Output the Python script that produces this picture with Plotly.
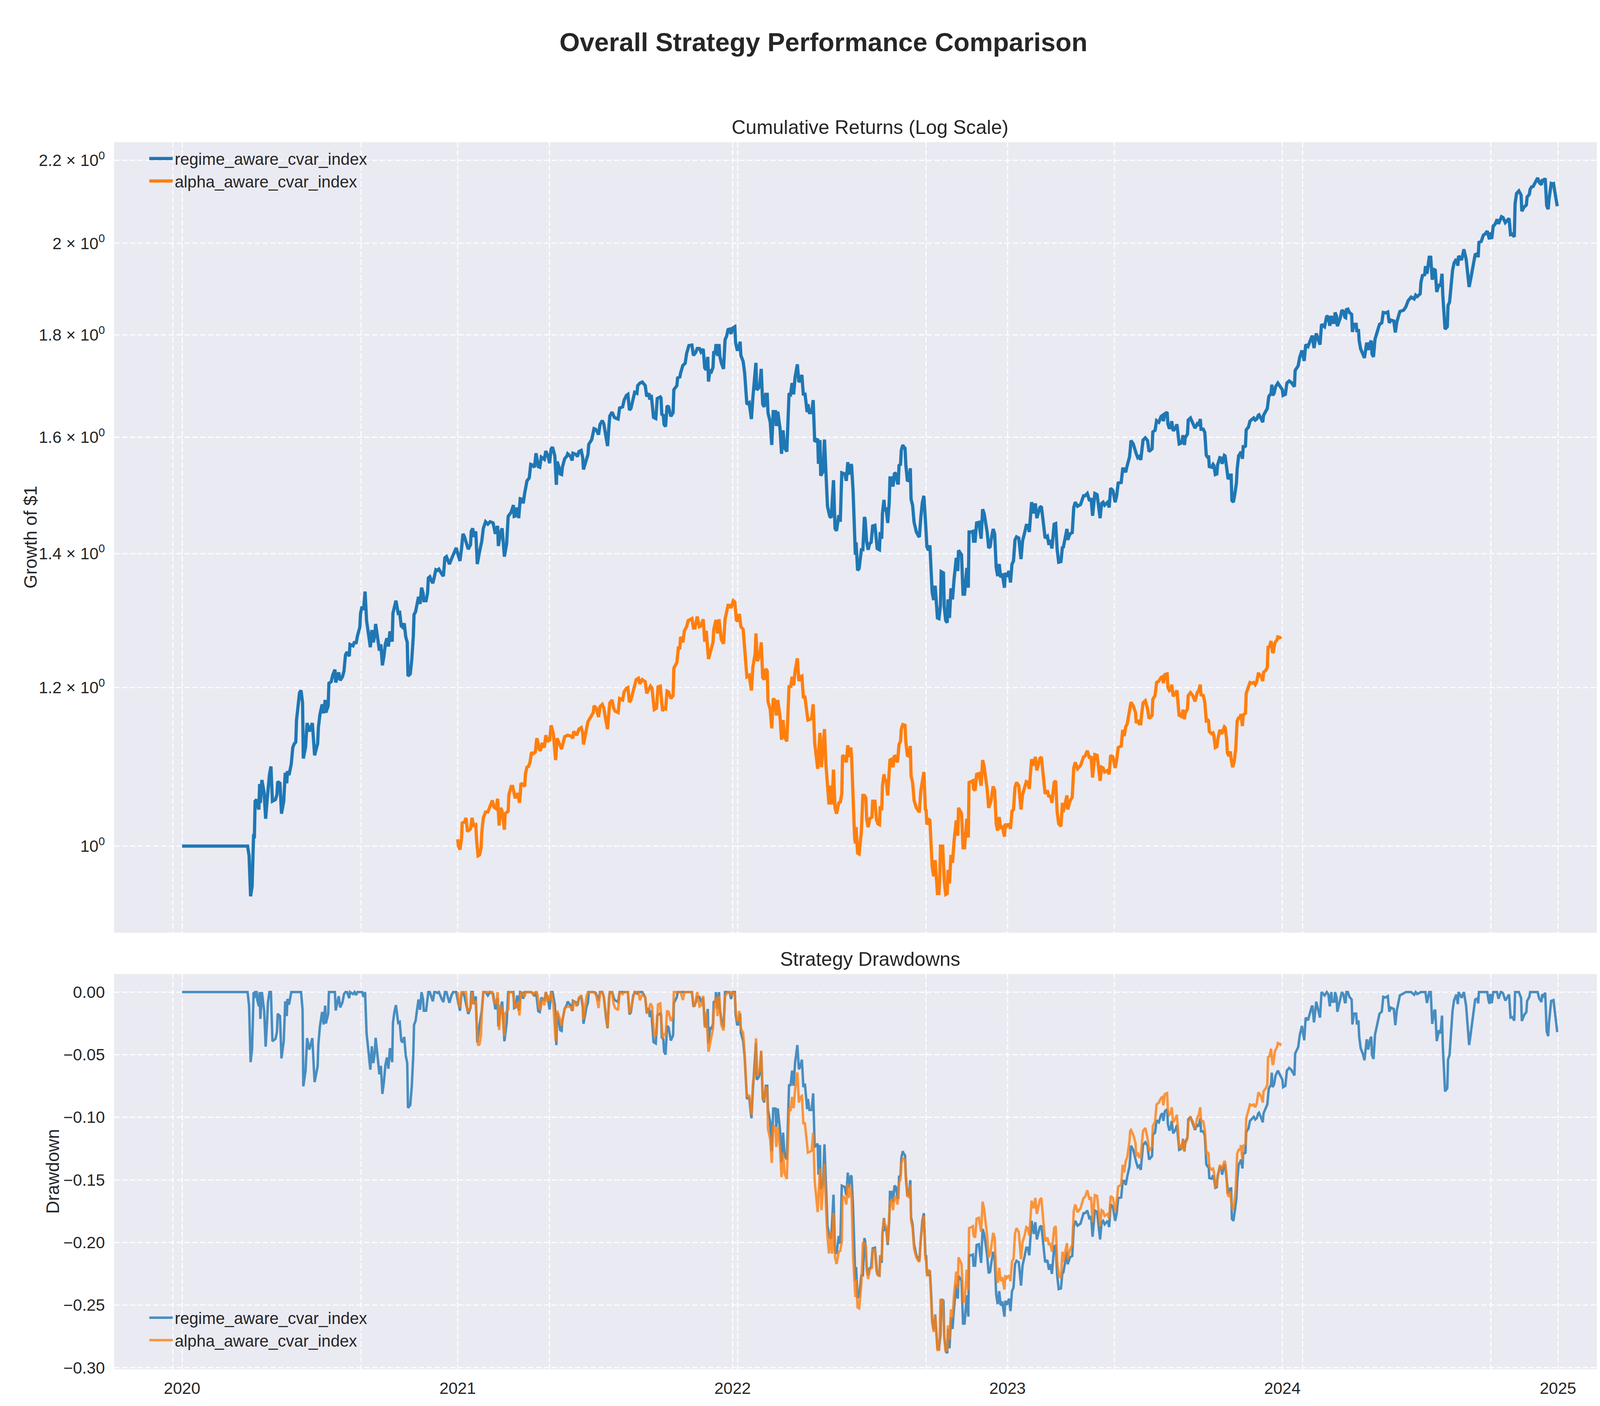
import pandas as pd
import plotly.graph_objects as go
from plotly.subplots import make_subplots

# growth of $1 (irregular sample of the daily path)
regime_dates_2020 = [
    "2020-01-01", "2020-03-28", "2020-03-30", "2020-04-01", "2020-04-03", "2020-04-05", "2020-04-06", "2020-04-07", "2020-04-09", "2020-04-10",
    "2020-04-12", "2020-04-13", "2020-04-14", "2020-04-16", "2020-04-19", "2020-04-21", "2020-04-23", "2020-04-24", "2020-04-26", "2020-04-28",
    "2020-04-30", "2020-05-04", "2020-05-06", "2020-05-07", "2020-05-10", "2020-05-12", "2020-05-15", "2020-05-17", "2020-05-19", "2020-05-20",
    "2020-05-22", "2020-05-25", "2020-05-27", "2020-05-29", "2020-05-31", "2020-06-01", "2020-06-04", "2020-06-05", "2020-06-07", "2020-06-09",
    "2020-06-10", "2020-06-13", "2020-06-15", "2020-06-18", "2020-06-22", "2020-06-24", "2020-06-25", "2020-06-29", "2020-06-30", "2020-07-02",
    "2020-07-05", "2020-07-07", "2020-07-09", "2020-07-10", "2020-07-13", "2020-07-14", "2020-07-17", "2020-07-19", "2020-07-22", "2020-07-23",
    "2020-07-25", "2020-07-27", "2020-07-29", "2020-08-01", "2020-08-03", "2020-08-05", "2020-08-07", "2020-08-10", "2020-08-11", "2020-08-15",
    "2020-08-17", "2020-08-19", "2020-08-21", "2020-08-24", "2020-08-25", "2020-08-27", "2020-08-29", "2020-08-31", "2020-09-02", "2020-09-05",
    "2020-09-07", "2020-09-09", "2020-09-11", "2020-09-13", "2020-09-14", "2020-09-17", "2020-09-19", "2020-09-21", "2020-09-23", "2020-09-25",
    "2020-09-27", "2020-09-29", "2020-10-01", "2020-10-03", "2020-10-06", "2020-10-07", "2020-10-09", "2020-10-11", "2020-10-14", "2020-10-16",
    "2020-10-18", "2020-10-20", "2020-10-22", "2020-10-24", "2020-10-26", "2020-10-27", "2020-10-30", "2020-11-01", "2020-11-03", "2020-11-04",
    "2020-11-06", "2020-11-08", "2020-11-10", "2020-11-12", "2020-11-14", "2020-11-16", "2020-11-17", "2020-11-20", "2020-11-22", "2020-11-23",
    "2020-11-25", "2020-11-27", "2020-11-29", "2020-12-01", "2020-12-03", "2020-12-05", "2020-12-07", "2020-12-11", "2020-12-13", "2020-12-15",
    "2020-12-17", "2020-12-19", "2020-12-21", "2020-12-24", "2020-12-26", "2020-12-29", "2020-12-30",
]
regime_values_2020 = [
    1.000, 1.000, 0.989, 0.944, 0.955, 1.014, 1.009, 1.053, 1.055, 1.048,
    1.043, 1.074, 1.051, 1.079, 1.063, 1.032, 1.055, 1.070, 1.085, 1.096,
    1.053, 1.055, 1.061, 1.077, 1.075, 1.038, 1.053, 1.088, 1.075, 1.090,
    1.085, 1.099, 1.120, 1.125, 1.127, 1.156, 1.185, 1.193, 1.196, 1.179,
    1.106, 1.121, 1.152, 1.141, 1.152, 1.123, 1.110, 1.125, 1.146, 1.163,
    1.177, 1.165, 1.183, 1.166, 1.175, 1.206, 1.208, 1.217, 1.225, 1.207,
    1.215, 1.221, 1.210, 1.215, 1.223, 1.246, 1.250, 1.244, 1.261, 1.259,
    1.265, 1.262, 1.274, 1.286, 1.307, 1.317, 1.312, 1.340, 1.296, 1.272,
    1.257, 1.282, 1.264, 1.276, 1.291, 1.268, 1.252, 1.261, 1.231, 1.244,
    1.262, 1.270, 1.258, 1.280, 1.265, 1.307, 1.319, 1.326, 1.307, 1.308,
    1.288, 1.286, 1.292, 1.272, 1.264, 1.216, 1.219, 1.239, 1.272, 1.305,
    1.309, 1.321, 1.332, 1.321, 1.346, 1.338, 1.326, 1.326, 1.338, 1.361,
    1.363, 1.357, 1.353, 1.363, 1.374, 1.373, 1.375, 1.367, 1.364, 1.393,
    1.395, 1.389, 1.383, 1.392, 1.398, 1.407, 1.409,
]

regime_dates_2021 = [
    "2021-01-01", "2021-01-04", "2021-01-06", "2021-01-08", "2021-01-10", "2021-01-12", "2021-01-15", "2021-01-18", "2021-01-19", "2021-01-21",
    "2021-01-22", "2021-01-25", "2021-01-27", "2021-01-30", "2021-02-02", "2021-02-04", "2021-02-07", "2021-02-10", "2021-02-13", "2021-02-17",
    "2021-02-20", "2021-02-23", "2021-02-24", "2021-02-27", "2021-03-01", "2021-03-04", "2021-03-07", "2021-03-09", "2021-03-13", "2021-03-16",
    "2021-03-17", "2021-03-19", "2021-03-21", "2021-03-23", "2021-03-25", "2021-03-28", "2021-03-29", "2021-03-31", "2021-04-03", "2021-04-06",
    "2021-04-08", "2021-04-10", "2021-04-13", "2021-04-15", "2021-04-18", "2021-04-20", "2021-04-22", "2021-04-26", "2021-04-28", "2021-05-01",
    "2021-05-03", "2021-05-05", "2021-05-07", "2021-05-10", "2021-05-12", "2021-05-13", "2021-05-15", "2021-05-17", "2021-05-19", "2021-05-20",
    "2021-05-23", "2021-05-26", "2021-05-27", "2021-05-31", "2021-06-02", "2021-06-03", "2021-06-07", "2021-06-09", "2021-06-11", "2021-06-14",
    "2021-06-16", "2021-06-17", "2021-06-21", "2021-06-23", "2021-06-24", "2021-06-28", "2021-07-01", "2021-07-03", "2021-07-05", "2021-07-07",
    "2021-07-09", "2021-07-12", "2021-07-14", "2021-07-17", "2021-07-19", "2021-07-21", "2021-07-22", "2021-07-25", "2021-07-28", "2021-07-31",
    "2021-08-02", "2021-08-04", "2021-08-08", "2021-08-10", "2021-08-13", "2021-08-15", "2021-08-17", "2021-08-19", "2021-08-22", "2021-08-24",
    "2021-08-27", "2021-08-28", "2021-08-31", "2021-09-03", "2021-09-07", "2021-09-09", "2021-09-12", "2021-09-13", "2021-09-15", "2021-09-18",
    "2021-09-21", "2021-09-23", "2021-09-27", "2021-09-28", "2021-09-29", "2021-10-01", "2021-10-02", "2021-10-04", "2021-10-06", "2021-10-08",
    "2021-10-11", "2021-10-14", "2021-10-15", "2021-10-19", "2021-10-20", "2021-10-23", "2021-10-24", "2021-10-27", "2021-10-30", "2021-11-01",
    "2021-11-04", "2021-11-08", "2021-11-10", "2021-11-13", "2021-11-15", "2021-11-18", "2021-11-20", "2021-11-23", "2021-11-25", "2021-11-27",
    "2021-11-29", "2021-11-30", "2021-12-02", "2021-12-04", "2021-12-06", "2021-12-07", "2021-12-09", "2021-12-10", "2021-12-12", "2021-12-14",
    "2021-12-15", "2021-12-17", "2021-12-20", "2021-12-22", "2021-12-24", "2021-12-26", "2021-12-28", "2021-12-30",
]
regime_values_2021 = [
    1.400, 1.388, 1.407, 1.432, 1.427, 1.420, 1.407, 1.414, 1.436, 1.441,
    1.427, 1.436, 1.383, 1.403, 1.420, 1.441, 1.452, 1.448, 1.452, 1.450,
    1.432, 1.445, 1.412, 1.434, 1.441, 1.395, 1.416, 1.461, 1.468, 1.480,
    1.461, 1.462, 1.476, 1.458, 1.491, 1.490, 1.483, 1.501, 1.522, 1.527,
    1.551, 1.550, 1.546, 1.571, 1.547, 1.546, 1.564, 1.560, 1.575, 1.565,
    1.553, 1.579, 1.582, 1.566, 1.515, 1.556, 1.548, 1.534, 1.533, 1.546,
    1.561, 1.566, 1.570, 1.565, 1.558, 1.571, 1.569, 1.565, 1.574, 1.576,
    1.563, 1.542, 1.563, 1.569, 1.587, 1.596, 1.616, 1.615, 1.611, 1.605,
    1.624, 1.631, 1.625, 1.597, 1.584, 1.624, 1.640, 1.647, 1.637, 1.635,
    1.634, 1.655, 1.657, 1.670, 1.679, 1.681, 1.651, 1.654, 1.676, 1.685,
    1.683, 1.698, 1.703, 1.705, 1.698, 1.677, 1.683, 1.671, 1.680, 1.637,
    1.635, 1.673, 1.676, 1.674, 1.643, 1.641, 1.624, 1.620, 1.659, 1.657,
    1.639, 1.646, 1.690, 1.698, 1.713, 1.715, 1.723, 1.738, 1.742, 1.762,
    1.778, 1.779, 1.758, 1.764, 1.772, 1.772, 1.765, 1.771, 1.733, 1.729,
    1.755, 1.706, 1.729, 1.726, 1.734, 1.766, 1.764, 1.781, 1.757, 1.781,
    1.757, 1.743, 1.731, 1.790, 1.797, 1.811, 1.812, 1.802,
]

regime_dates_2022 = [
    "2022-01-01", "2022-01-04", "2022-01-05", "2022-01-07", "2022-01-09", "2022-01-11", "2022-01-12", "2022-01-15", "2022-01-17", "2022-01-20",
    "2022-01-23", "2022-01-25", "2022-01-26", "2022-01-28", "2022-01-30", "2022-02-01", "2022-02-02", "2022-02-04", "2022-02-06", "2022-02-08",
    "2022-02-10", "2022-02-12", "2022-02-14", "2022-02-16", "2022-02-17", "2022-02-20", "2022-02-22", "2022-02-24", "2022-02-27", "2022-02-28",
    "2022-03-02", "2022-03-05", "2022-03-07", "2022-03-09", "2022-03-11", "2022-03-14", "2022-03-17", "2022-03-19", "2022-03-21", "2022-03-23",
    "2022-03-25", "2022-03-28", "2022-03-30", "2022-04-01", "2022-04-03", "2022-04-05", "2022-04-07", "2022-04-10", "2022-04-11", "2022-04-13",
    "2022-04-16", "2022-04-18", "2022-04-20", "2022-04-24", "2022-04-25", "2022-04-27", "2022-04-28", "2022-05-01", "2022-05-03", "2022-05-05",
    "2022-05-07", "2022-05-10", "2022-05-12", "2022-05-15", "2022-05-17", "2022-05-19", "2022-05-22", "2022-05-24", "2022-05-26", "2022-05-30",
    "2022-06-01", "2022-06-03", "2022-06-04", "2022-06-07", "2022-06-08", "2022-06-10", "2022-06-12", "2022-06-13", "2022-06-14", "2022-06-16",
    "2022-06-18", "2022-06-21", "2022-06-23", "2022-06-25", "2022-06-26", "2022-06-28", "2022-06-30", "2022-07-02", "2022-07-04", "2022-07-06",
    "2022-07-09", "2022-07-10", "2022-07-12", "2022-07-15", "2022-07-16", "2022-07-18", "2022-07-19", "2022-07-21", "2022-07-22", "2022-07-24",
    "2022-07-26", "2022-07-28", "2022-07-29", "2022-07-31", "2022-08-02", "2022-08-04", "2022-08-06", "2022-08-08", "2022-08-09", "2022-08-10",
    "2022-08-12", "2022-08-13", "2022-08-15", "2022-08-16", "2022-08-18", "2022-08-19", "2022-08-21", "2022-08-23", "2022-08-25", "2022-08-26",
    "2022-08-28", "2022-08-30", "2022-09-02", "2022-09-05", "2022-09-06", "2022-09-08", "2022-09-10", "2022-09-12", "2022-09-14", "2022-09-15",
    "2022-09-16", "2022-09-18", "2022-09-20", "2022-09-22", "2022-09-23", "2022-09-25", "2022-09-27", "2022-09-30", "2022-10-02", "2022-10-04",
    "2022-10-05", "2022-10-08", "2022-10-09", "2022-10-11", "2022-10-13", "2022-10-14", "2022-10-16", "2022-10-18", "2022-10-20", "2022-10-22",
    "2022-10-25", "2022-10-27", "2022-10-28", "2022-11-01", "2022-11-03", "2022-11-05", "2022-11-08", "2022-11-10", "2022-11-11", "2022-11-14",
    "2022-11-16", "2022-11-17", "2022-11-19", "2022-11-21", "2022-11-24", "2022-11-27", "2022-11-29", "2022-12-01", "2022-12-05", "2022-12-07",
    "2022-12-09", "2022-12-10", "2022-12-13", "2022-12-15", "2022-12-17", "2022-12-19", "2022-12-21", "2022-12-23", "2022-12-25", "2022-12-28",
    "2022-12-29", "2022-12-31",
]
regime_values_2022 = [
    1.814, 1.817, 1.784, 1.770, 1.770, 1.786, 1.758, 1.746, 1.723, 1.662,
    1.665, 1.643, 1.634, 1.676, 1.705, 1.743, 1.690, 1.692, 1.698, 1.731,
    1.662, 1.657, 1.681, 1.681, 1.646, 1.628, 1.586, 1.648, 1.648, 1.621,
    1.648, 1.616, 1.570, 1.613, 1.581, 1.574, 1.683, 1.681, 1.703, 1.681,
    1.715, 1.740, 1.705, 1.709, 1.719, 1.679, 1.684, 1.647, 1.662, 1.646,
    1.646, 1.670, 1.592, 1.597, 1.552, 1.595, 1.531, 1.538, 1.596, 1.530,
    1.478, 1.461, 1.459, 1.523, 1.441, 1.437, 1.463, 1.452, 1.536, 1.534,
    1.522, 1.555, 1.533, 1.551, 1.549, 1.504, 1.429, 1.398, 1.418, 1.373,
    1.376, 1.406, 1.406, 1.460, 1.456, 1.419, 1.406, 1.416, 1.418, 1.445,
    1.446, 1.429, 1.408, 1.406, 1.435, 1.424, 1.466, 1.489, 1.472, 1.473,
    1.450, 1.485, 1.527, 1.527, 1.512, 1.536, 1.534, 1.518, 1.518, 1.549,
    1.551, 1.576, 1.586, 1.583, 1.580, 1.551, 1.523, 1.522, 1.544, 1.490,
    1.480, 1.451, 1.435, 1.428, 1.427, 1.460, 1.485, 1.496, 1.435, 1.434,
    1.411, 1.405, 1.413, 1.372, 1.339, 1.327, 1.349, 1.300, 1.299, 1.319,
    1.371, 1.369, 1.317, 1.296, 1.293, 1.328, 1.300, 1.345, 1.328, 1.358,
    1.393, 1.372, 1.405, 1.398, 1.336, 1.336, 1.377, 1.346, 1.435, 1.435,
    1.436, 1.420, 1.420, 1.450, 1.451, 1.424, 1.473, 1.466, 1.435, 1.409,
    1.411, 1.420, 1.440, 1.432, 1.378, 1.364, 1.383, 1.362, 1.368, 1.346,
    1.369, 1.363,
]

regime_dates_2023 = [
    "2023-01-03", "2023-01-05", "2023-01-07", "2023-01-09", "2023-01-11", "2023-01-13", "2023-01-16", "2023-01-19", "2023-01-21", "2023-01-24",
    "2023-01-26", "2023-01-28", "2023-01-30", "2023-02-02", "2023-02-05", "2023-02-07", "2023-02-09", "2023-02-13", "2023-02-15", "2023-02-17",
    "2023-02-20", "2023-02-23", "2023-02-25", "2023-02-27", "2023-03-01", "2023-03-04", "2023-03-06", "2023-03-08", "2023-03-10", "2023-03-13",
    "2023-03-15", "2023-03-16", "2023-03-18", "2023-03-21", "2023-03-22", "2023-03-25", "2023-03-28", "2023-03-30", "2023-04-01", "2023-04-04",
    "2023-04-08", "2023-04-12", "2023-04-14", "2023-04-17", "2023-04-20", "2023-04-22", "2023-04-24", "2023-04-27", "2023-04-30", "2023-05-04",
    "2023-05-06", "2023-05-08", "2023-05-10", "2023-05-14", "2023-05-16", "2023-05-18", "2023-05-21", "2023-05-24", "2023-05-26", "2023-05-28",
    "2023-06-01", "2023-06-03", "2023-06-05", "2023-06-07", "2023-06-09", "2023-06-12", "2023-06-13", "2023-06-14", "2023-06-17", "2023-06-20",
    "2023-06-21", "2023-06-23", "2023-06-25", "2023-06-27", "2023-06-28", "2023-06-30", "2023-07-03", "2023-07-06", "2023-07-08", "2023-07-12",
    "2023-07-13", "2023-07-16", "2023-07-18", "2023-07-21", "2023-07-24", "2023-07-26", "2023-07-27", "2023-07-29", "2023-08-01", "2023-08-02",
    "2023-08-04", "2023-08-06", "2023-08-07", "2023-08-09", "2023-08-12", "2023-08-14", "2023-08-17", "2023-08-19", "2023-08-21", "2023-08-22",
    "2023-08-24", "2023-08-25", "2023-08-28", "2023-08-29", "2023-09-01", "2023-09-04", "2023-09-07", "2023-09-10", "2023-09-12", "2023-09-14",
    "2023-09-15", "2023-09-18", "2023-09-20", "2023-09-22", "2023-09-24", "2023-09-25", "2023-09-26", "2023-09-29", "2023-10-01", "2023-10-02",
    "2023-10-04", "2023-10-06", "2023-10-07", "2023-10-10", "2023-10-12", "2023-10-13", "2023-10-16", "2023-10-17", "2023-10-19", "2023-10-20",
    "2023-10-21", "2023-10-24", "2023-10-25", "2023-10-26", "2023-10-28", "2023-10-30", "2023-11-01", "2023-11-02", "2023-11-04", "2023-11-06",
    "2023-11-07", "2023-11-09", "2023-11-10", "2023-11-12", "2023-11-13", "2023-11-14", "2023-11-17", "2023-11-19", "2023-11-22", "2023-11-24",
    "2023-11-26", "2023-11-28", "2023-11-30", "2023-12-01", "2023-12-04", "2023-12-06", "2023-12-07", "2023-12-09", "2023-12-12", "2023-12-14",
    "2023-12-17", "2023-12-18", "2023-12-19", "2023-12-21", "2023-12-23", "2023-12-26", "2023-12-30",
]
regime_values_2023 = [
    1.372, 1.354, 1.383, 1.388, 1.422, 1.427, 1.425, 1.391, 1.420, 1.435,
    1.446, 1.446, 1.435, 1.485, 1.466, 1.483, 1.458, 1.476, 1.478, 1.457,
    1.425, 1.428, 1.414, 1.422, 1.408, 1.448, 1.449, 1.406, 1.386, 1.387,
    1.411, 1.409, 1.422, 1.440, 1.422, 1.432, 1.434, 1.476, 1.485, 1.478,
    1.481, 1.496, 1.496, 1.500, 1.487, 1.492, 1.462, 1.500, 1.498, 1.458,
    1.483, 1.485, 1.480, 1.485, 1.476, 1.509, 1.505, 1.485, 1.496, 1.518,
    1.519, 1.543, 1.543, 1.537, 1.549, 1.564, 1.577, 1.594, 1.588, 1.571,
    1.570, 1.563, 1.565, 1.559, 1.570, 1.595, 1.599, 1.594, 1.574, 1.579,
    1.610, 1.613, 1.631, 1.628, 1.639, 1.641, 1.630, 1.644, 1.647, 1.625,
    1.616, 1.621, 1.630, 1.612, 1.617, 1.624, 1.588, 1.589, 1.594, 1.604,
    1.586, 1.599, 1.606, 1.632, 1.636, 1.627, 1.617, 1.625, 1.622, 1.634,
    1.615, 1.615, 1.609, 1.567, 1.563, 1.567, 1.547, 1.546, 1.551, 1.549,
    1.533, 1.534, 1.550, 1.563, 1.562, 1.552, 1.567, 1.566, 1.543, 1.539,
    1.525, 1.532, 1.532, 1.488, 1.485, 1.500, 1.518, 1.543, 1.567, 1.570,
    1.574, 1.561, 1.583, 1.583, 1.584, 1.614, 1.619, 1.630, 1.634, 1.636,
    1.632, 1.634, 1.641, 1.642, 1.634, 1.628, 1.641, 1.647, 1.654, 1.677,
    1.683, 1.700, 1.679, 1.683, 1.696, 1.703, 1.695,
]

regime_dates_2024 = [
    "2024-01-01", "2024-01-02", "2024-01-05", "2024-01-07", "2024-01-10", "2024-01-13", "2024-01-15", "2024-01-17", "2024-01-18", "2024-01-20",
    "2024-01-22", "2024-01-24", "2024-01-27", "2024-01-30", "2024-02-01", "2024-02-04", "2024-02-07", "2024-02-09", "2024-02-10", "2024-02-12",
    "2024-02-15", "2024-02-20", "2024-02-22", "2024-02-24", "2024-02-26", "2024-02-29", "2024-03-02", "2024-03-04", "2024-03-06", "2024-03-07",
    "2024-03-10", "2024-03-11", "2024-03-13", "2024-03-14", "2024-03-18", "2024-03-20", "2024-03-22", "2024-03-24", "2024-03-25", "2024-03-26",
    "2024-03-28", "2024-03-30", "2024-04-02", "2024-04-03", "2024-04-05", "2024-04-08", "2024-04-09", "2024-04-11", "2024-04-12", "2024-04-14",
    "2024-04-17", "2024-04-19", "2024-04-22", "2024-04-24", "2024-04-26", "2024-04-28", "2024-04-29", "2024-05-01", "2024-05-03", "2024-05-05",
    "2024-05-09", "2024-05-12", "2024-05-14", "2024-05-17", "2024-05-20", "2024-05-22", "2024-05-24", "2024-05-28", "2024-05-30", "2024-06-01",
    "2024-06-04", "2024-06-05", "2024-06-10", "2024-06-13", "2024-06-16", "2024-06-20", "2024-06-24", "2024-06-26", "2024-06-28", "2024-07-02",
    "2024-07-03", "2024-07-05", "2024-07-08", "2024-07-09", "2024-07-11", "2024-07-14", "2024-07-16", "2024-07-18", "2024-07-21", "2024-07-22",
    "2024-07-24", "2024-07-27", "2024-07-29", "2024-07-31", "2024-08-01", "2024-08-04", "2024-08-07", "2024-08-08", "2024-08-10", "2024-08-12",
    "2024-08-14", "2024-08-16", "2024-08-19", "2024-08-21", "2024-08-22", "2024-08-26", "2024-08-29", "2024-09-01", "2024-09-02", "2024-09-05",
    "2024-09-07", "2024-09-11", "2024-09-13", "2024-09-16", "2024-09-17", "2024-09-18", "2024-09-21", "2024-09-24", "2024-09-26", "2024-09-29",
    "2024-10-01", "2024-10-02", "2024-10-03", "2024-10-05", "2024-10-07", "2024-10-09", "2024-10-11", "2024-10-12", "2024-10-14", "2024-10-17",
    "2024-10-18", "2024-10-20", "2024-10-23", "2024-10-25", "2024-10-28", "2024-10-30", "2024-11-01", "2024-11-04", "2024-11-05", "2024-11-07",
    "2024-11-10", "2024-11-13", "2024-11-14", "2024-11-17", "2024-11-20", "2024-11-21", "2024-11-24", "2024-11-25", "2024-11-27", "2024-11-29",
    "2024-12-03", "2024-12-05", "2024-12-07", "2024-12-10", "2024-12-11", "2024-12-13", "2024-12-15", "2024-12-17", "2024-12-19", "2024-12-20",
    "2024-12-23", "2024-12-24", "2024-12-26", "2024-12-28", "2024-12-31",
]
regime_values_2024 = [
    1.690, 1.679, 1.681, 1.703, 1.707, 1.704, 1.700, 1.696, 1.728, 1.732,
    1.737, 1.754, 1.768, 1.747, 1.780, 1.776, 1.789, 1.796, 1.796, 1.773,
    1.803, 1.780, 1.822, 1.819, 1.817, 1.840, 1.837, 1.819, 1.840, 1.826,
    1.826, 1.847, 1.839, 1.818, 1.836, 1.852, 1.849, 1.837, 1.836, 1.853,
    1.854, 1.847, 1.843, 1.806, 1.822, 1.822, 1.806, 1.812, 1.788, 1.771,
    1.762, 1.753, 1.784, 1.769, 1.782, 1.788, 1.761, 1.755, 1.791, 1.801,
    1.822, 1.825, 1.847, 1.846, 1.848, 1.825, 1.831, 1.829, 1.805, 1.827,
    1.846, 1.849, 1.852, 1.859, 1.872, 1.880, 1.876, 1.884, 1.881, 1.887,
    1.912, 1.927, 1.929, 1.948, 1.931, 1.968, 1.968, 1.918, 1.940, 1.939,
    1.891, 1.908, 1.903, 1.931, 1.885, 1.812, 1.817, 1.862, 1.869, 1.904,
    1.939, 1.955, 1.964, 1.949, 1.971, 1.962, 1.986, 1.964, 1.946, 1.902,
    1.919, 1.953, 1.974, 1.976, 1.968, 2.002, 2.004, 2.019, 2.021, 2.028,
    2.013, 2.009, 2.025, 2.010, 2.040, 2.043, 2.050, 2.056, 2.045, 2.056,
    2.062, 2.060, 2.048, 2.052, 2.058, 2.020, 2.021, 2.015, 2.093, 2.118,
    2.124, 2.114, 2.075, 2.085, 2.090, 2.109, 2.116, 2.128, 2.134, 2.135,
    2.147, 2.156, 2.145, 2.139, 2.152, 2.149, 2.155, 2.088, 2.080, 2.103,
    2.142, 2.141, 2.142, 2.118, 2.087,
]

alpha_dates_2021 = [
    "2021-01-01", "2021-01-02", "2021-01-04", "2021-01-06", "2021-01-07", "2021-01-10", "2021-01-12", "2021-01-14", "2021-01-18", "2021-01-20",
    "2021-01-22", "2021-01-25", "2021-01-26", "2021-01-28", "2021-01-30", "2021-02-01", "2021-02-02", "2021-02-04", "2021-02-07", "2021-02-10",
    "2021-02-13", "2021-02-16", "2021-02-18", "2021-02-21", "2021-02-23", "2021-02-25", "2021-02-27", "2021-03-01", "2021-03-04", "2021-03-05",
    "2021-03-09", "2021-03-10", "2021-03-13", "2021-03-15", "2021-03-18", "2021-03-20", "2021-03-22", "2021-03-24", "2021-03-25", "2021-03-26",
    "2021-03-29", "2021-03-31", "2021-04-01", "2021-04-03", "2021-04-05", "2021-04-07", "2021-04-09", "2021-04-11", "2021-04-14", "2021-04-16",
    "2021-04-17", "2021-04-19", "2021-04-21", "2021-04-23", "2021-04-26", "2021-04-28", "2021-04-30", "2021-05-02", "2021-05-03", "2021-05-05",
    "2021-05-08", "2021-05-11", "2021-05-13", "2021-05-16", "2021-05-19", "2021-05-21", "2021-05-23", "2021-05-27", "2021-05-31", "2021-06-03",
    "2021-06-04", "2021-06-08", "2021-06-11", "2021-06-14", "2021-06-16", "2021-06-17", "2021-06-21", "2021-06-23", "2021-06-26", "2021-06-30",
    "2021-07-01", "2021-07-04", "2021-07-07", "2021-07-09", "2021-07-12", "2021-07-14", "2021-07-17", "2021-07-19", "2021-07-21", "2021-07-22",
    "2021-07-25", "2021-07-27", "2021-07-29", "2021-08-02", "2021-08-04", "2021-08-08", "2021-08-10", "2021-08-13", "2021-08-15", "2021-08-17",
    "2021-08-19", "2021-08-22", "2021-08-24", "2021-08-26", "2021-08-29", "2021-08-31", "2021-09-03", "2021-09-07", "2021-09-09", "2021-09-12",
    "2021-09-14", "2021-09-16", "2021-09-19", "2021-09-22", "2021-09-24", "2021-09-27", "2021-09-29", "2021-09-30", "2021-10-02", "2021-10-04",
    "2021-10-06", "2021-10-08", "2021-10-11", "2021-10-14", "2021-10-15", "2021-10-19", "2021-10-21", "2021-10-23", "2021-10-24", "2021-10-27",
    "2021-10-29", "2021-11-01", "2021-11-03", "2021-11-05", "2021-11-08", "2021-11-10", "2021-11-12", "2021-11-15", "2021-11-18", "2021-11-20",
    "2021-11-23", "2021-11-25", "2021-11-27", "2021-11-30", "2021-12-02", "2021-12-06", "2021-12-07", "2021-12-10", "2021-12-12", "2021-12-14",
    "2021-12-17", "2021-12-20", "2021-12-22", "2021-12-26", "2021-12-28", "2021-12-30",
]
alpha_values_2021 = [
    1.008, 1.000, 0.996, 1.008, 1.027, 1.028, 1.033, 1.017, 1.020, 1.033,
    1.024, 1.025, 1.008, 0.989, 0.990, 0.998, 1.016, 1.033, 1.040, 1.040,
    1.047, 1.054, 1.046, 1.044, 1.056, 1.024, 1.045, 1.041, 1.019, 1.038,
    1.041, 1.061, 1.071, 1.071, 1.058, 1.058, 1.063, 1.051, 1.060, 1.075,
    1.073, 1.071, 1.087, 1.095, 1.096, 1.101, 1.114, 1.112, 1.114, 1.132,
    1.129, 1.118, 1.116, 1.126, 1.120, 1.136, 1.127, 1.133, 1.128, 1.149,
    1.138, 1.104, 1.132, 1.126, 1.118, 1.126, 1.134, 1.136, 1.135, 1.132,
    1.141, 1.136, 1.144, 1.146, 1.139, 1.124, 1.145, 1.154, 1.159, 1.166,
    1.175, 1.172, 1.160, 1.174, 1.177, 1.172, 1.154, 1.144, 1.169, 1.179,
    1.183, 1.172, 1.168, 1.166, 1.185, 1.183, 1.194, 1.199, 1.200, 1.180,
    1.183, 1.195, 1.201, 1.211, 1.213, 1.205, 1.211, 1.208, 1.192, 1.197,
    1.202, 1.199, 1.170, 1.172, 1.201, 1.202, 1.177, 1.168, 1.172, 1.171,
    1.195, 1.194, 1.185, 1.189, 1.227, 1.235, 1.256, 1.256, 1.272, 1.264,
    1.281, 1.287, 1.296, 1.297, 1.299, 1.285, 1.285, 1.302, 1.287, 1.288,
    1.298, 1.265, 1.281, 1.240, 1.248, 1.264, 1.283, 1.297, 1.277, 1.298,
    1.268, 1.262, 1.298, 1.319, 1.319, 1.315,
]

alpha_dates_2022 = [
    "2022-01-02", "2022-01-04", "2022-01-06", "2022-01-08", "2022-01-10", "2022-01-12", "2022-01-15", "2022-01-17", "2022-01-20", "2022-01-23",
    "2022-01-25", "2022-01-26", "2022-01-28", "2022-01-31", "2022-02-01", "2022-02-03", "2022-02-05", "2022-02-06", "2022-02-08", "2022-02-10",
    "2022-02-12", "2022-02-14", "2022-02-16", "2022-02-17", "2022-02-20", "2022-02-22", "2022-02-24", "2022-02-27", "2022-02-28", "2022-03-02",
    "2022-03-05", "2022-03-07", "2022-03-09", "2022-03-11", "2022-03-14", "2022-03-17", "2022-03-19", "2022-03-21", "2022-03-23", "2022-03-25",
    "2022-03-28", "2022-03-30", "2022-04-01", "2022-04-03", "2022-04-05", "2022-04-07", "2022-04-10", "2022-04-11", "2022-04-14", "2022-04-16",
    "2022-04-18", "2022-04-20", "2022-04-24", "2022-04-27", "2022-04-29", "2022-05-03", "2022-05-05", "2022-05-07", "2022-05-09", "2022-05-11",
    "2022-05-13", "2022-05-15", "2022-05-17", "2022-05-19", "2022-05-22", "2022-05-24", "2022-05-26", "2022-05-27", "2022-05-30", "2022-06-01",
    "2022-06-03", "2022-06-04", "2022-06-07", "2022-06-08", "2022-06-10", "2022-06-12", "2022-06-13", "2022-06-14", "2022-06-16", "2022-06-18",
    "2022-06-21", "2022-06-23", "2022-06-25", "2022-06-27", "2022-06-28", "2022-06-30", "2022-07-02", "2022-07-05", "2022-07-06", "2022-07-09",
    "2022-07-11", "2022-07-13", "2022-07-15", "2022-07-16", "2022-07-18", "2022-07-19", "2022-07-21", "2022-07-22", "2022-07-24", "2022-07-26",
    "2022-07-28", "2022-07-29", "2022-07-31", "2022-08-02", "2022-08-04", "2022-08-06", "2022-08-08", "2022-08-10", "2022-08-12", "2022-08-13",
    "2022-08-15", "2022-08-18", "2022-08-19", "2022-08-21", "2022-08-23", "2022-08-25", "2022-08-26", "2022-08-28", "2022-08-30", "2022-09-02",
    "2022-09-05", "2022-09-06", "2022-09-08", "2022-09-10", "2022-09-12", "2022-09-14", "2022-09-15", "2022-09-16", "2022-09-18", "2022-09-20",
    "2022-09-22", "2022-09-23", "2022-09-25", "2022-09-27", "2022-09-30", "2022-10-02", "2022-10-03", "2022-10-04", "2022-10-07", "2022-10-09",
    "2022-10-11", "2022-10-13", "2022-10-14", "2022-10-16", "2022-10-18", "2022-10-20", "2022-10-22", "2022-10-25", "2022-10-27", "2022-10-28",
    "2022-11-01", "2022-11-03", "2022-11-05", "2022-11-08", "2022-11-10", "2022-11-11", "2022-11-14", "2022-11-16", "2022-11-17", "2022-11-19",
    "2022-11-21", "2022-11-24", "2022-11-27", "2022-11-29", "2022-12-01", "2022-12-05", "2022-12-07", "2022-12-09", "2022-12-10", "2022-12-13",
    "2022-12-15", "2022-12-17", "2022-12-19", "2022-12-21", "2022-12-23", "2022-12-25", "2022-12-28", "2022-12-29", "2022-12-31",
]
alpha_values_2022 = [
    1.326, 1.324, 1.297, 1.295, 1.306, 1.287, 1.283, 1.260, 1.215, 1.217,
    1.203, 1.196, 1.229, 1.248, 1.277, 1.237, 1.243, 1.243, 1.264, 1.214,
    1.211, 1.226, 1.223, 1.181, 1.170, 1.145, 1.185, 1.181, 1.162, 1.183,
    1.160, 1.130, 1.156, 1.134, 1.128, 1.203, 1.200, 1.215, 1.203, 1.223,
    1.241, 1.209, 1.215, 1.216, 1.187, 1.187, 1.164, 1.156, 1.157, 1.158,
    1.177, 1.126, 1.093, 1.139, 1.095, 1.144, 1.098, 1.066, 1.049, 1.072,
    1.049, 1.092, 1.045, 1.038, 1.051, 1.052, 1.062, 1.110, 1.108, 1.101,
    1.123, 1.108, 1.120, 1.108, 1.045, 1.010, 1.003, 1.022, 0.992, 0.991,
    1.017, 1.060, 1.060, 1.057, 1.032, 1.022, 1.032, 1.034, 1.053, 1.053,
    1.031, 1.026, 1.025, 1.047, 1.042, 1.072, 1.086, 1.080, 1.078, 1.060,
    1.090, 1.104, 1.105, 1.095, 1.110, 1.108, 1.101, 1.124, 1.128, 1.144,
    1.150, 1.149, 1.128, 1.110, 1.109, 1.122, 1.084, 1.076, 1.054, 1.045,
    1.041, 1.041, 1.066, 1.080, 1.089, 1.043, 1.042, 1.025, 1.032, 1.030,
    1.000, 0.977, 0.966, 0.984, 0.947, 0.947, 0.961, 1.000, 1.000, 0.961,
    0.946, 0.947, 0.973, 0.958, 0.990, 0.981, 1.005, 1.030, 1.012, 1.045,
    1.038, 0.998, 0.998, 1.032, 1.010, 1.076, 1.077, 1.078, 1.068, 1.066,
    1.086, 1.087, 1.072, 1.104, 1.096, 1.068, 1.045, 1.049, 1.053, 1.071,
    1.066, 1.026, 1.018, 1.034, 1.020, 1.024, 1.011, 1.026, 1.023,
]

alpha_dates_2023 = [
    "2023-01-03", "2023-01-05", "2023-01-07", "2023-01-09", "2023-01-11", "2023-01-13", "2023-01-16", "2023-01-19", "2023-01-21", "2023-01-24",
    "2023-01-26", "2023-01-28", "2023-01-30", "2023-02-02", "2023-02-05", "2023-02-07", "2023-02-09", "2023-02-13", "2023-02-15", "2023-02-17",
    "2023-02-20", "2023-02-23", "2023-02-25", "2023-02-27", "2023-03-01", "2023-03-04", "2023-03-06", "2023-03-08", "2023-03-10", "2023-03-13",
    "2023-03-15", "2023-03-16", "2023-03-18", "2023-03-21", "2023-03-22", "2023-03-25", "2023-03-28", "2023-03-30", "2023-04-01", "2023-04-04",
    "2023-04-08", "2023-04-12", "2023-04-14", "2023-04-17", "2023-04-20", "2023-04-22", "2023-04-24", "2023-04-27", "2023-04-30", "2023-05-04",
    "2023-05-06", "2023-05-08", "2023-05-10", "2023-05-14", "2023-05-16", "2023-05-18", "2023-05-21", "2023-05-24", "2023-05-26", "2023-05-28",
    "2023-06-01", "2023-06-03", "2023-06-05", "2023-06-07", "2023-06-09", "2023-06-12", "2023-06-13", "2023-06-14", "2023-06-17", "2023-06-20",
    "2023-06-21", "2023-06-23", "2023-06-25", "2023-06-27", "2023-06-28", "2023-06-30", "2023-07-03", "2023-07-06", "2023-07-08", "2023-07-12",
    "2023-07-13", "2023-07-16", "2023-07-18", "2023-07-21", "2023-07-24", "2023-07-26", "2023-07-27", "2023-07-29", "2023-08-01", "2023-08-02",
    "2023-08-04", "2023-08-06", "2023-08-07", "2023-08-09", "2023-08-12", "2023-08-14", "2023-08-17", "2023-08-19", "2023-08-21", "2023-08-22",
    "2023-08-24", "2023-08-25", "2023-08-28", "2023-08-29", "2023-09-01", "2023-09-04", "2023-09-07", "2023-09-10", "2023-09-12", "2023-09-14",
    "2023-09-15", "2023-09-18", "2023-09-20", "2023-09-22", "2023-09-24", "2023-09-25", "2023-09-26", "2023-09-29", "2023-10-01", "2023-10-02",
    "2023-10-04", "2023-10-06", "2023-10-07", "2023-10-10", "2023-10-12", "2023-10-13", "2023-10-16", "2023-10-17", "2023-10-19", "2023-10-20",
    "2023-10-22", "2023-10-24", "2023-10-25", "2023-10-27", "2023-10-29", "2023-10-31", "2023-11-02", "2023-11-04", "2023-11-06", "2023-11-07",
    "2023-11-09", "2023-11-10", "2023-11-13", "2023-11-14", "2023-11-17", "2023-11-19", "2023-11-22", "2023-11-24", "2023-11-26", "2023-11-28",
    "2023-11-30", "2023-12-01", "2023-12-04", "2023-12-06", "2023-12-07", "2023-12-10", "2023-12-12", "2023-12-13", "2023-12-15", "2023-12-17",
    "2023-12-19", "2023-12-20", "2023-12-22", "2023-12-25", "2023-12-26", "2023-12-29", "2023-12-30",
]
alpha_values_2023 = [
    1.026, 1.020, 1.041, 1.043, 1.070, 1.076, 1.072, 1.043, 1.061, 1.069,
    1.077, 1.076, 1.068, 1.105, 1.097, 1.108, 1.091, 1.106, 1.108, 1.089,
    1.062, 1.066, 1.058, 1.060, 1.051, 1.076, 1.078, 1.040, 1.026, 1.023,
    1.051, 1.040, 1.047, 1.060, 1.043, 1.053, 1.058, 1.094, 1.101, 1.093,
    1.097, 1.108, 1.109, 1.116, 1.106, 1.109, 1.082, 1.111, 1.110, 1.078,
    1.095, 1.094, 1.089, 1.091, 1.086, 1.110, 1.108, 1.094, 1.104, 1.120,
    1.122, 1.143, 1.135, 1.147, 1.151, 1.168, 1.179, 1.180, 1.175, 1.166,
    1.152, 1.156, 1.151, 1.151, 1.162, 1.179, 1.182, 1.171, 1.158, 1.162,
    1.184, 1.189, 1.207, 1.209, 1.214, 1.215, 1.206, 1.218, 1.219, 1.200,
    1.196, 1.198, 1.204, 1.188, 1.192, 1.196, 1.161, 1.163, 1.159, 1.170,
    1.157, 1.165, 1.171, 1.189, 1.193, 1.189, 1.181, 1.193, 1.196, 1.204,
    1.190, 1.189, 1.180, 1.155, 1.156, 1.155, 1.141, 1.138, 1.139, 1.136,
    1.120, 1.121, 1.129, 1.143, 1.139, 1.139, 1.147, 1.146, 1.131, 1.113,
    1.109, 1.115, 1.105, 1.095, 1.102, 1.117, 1.155, 1.159, 1.159, 1.164,
    1.148, 1.163, 1.165, 1.192, 1.201, 1.207, 1.206, 1.207, 1.204, 1.208,
    1.219, 1.219, 1.215, 1.209, 1.221, 1.224, 1.228, 1.257, 1.258, 1.266,
    1.249, 1.250, 1.263, 1.268, 1.272, 1.271, 1.269,
]

# axis ticks and the second set of vertical grid lines seen in the source
year_ticks = ["2020-01-01", "2021-01-01", "2022-01-01", "2023-01-01", "2024-01-01", "2025-01-01"]
year_labels = ["2020", "2021", "2022", "2023", "2024", "2025"]
extra_grid_dates = ["2019-12-20", "2020-08-26", "2021-05-03", "2022-01-08", "2022-09-15", "2023-05-23", "2024-01-28", "2024-10-04"]
growth_ticks = [1.0, 1.2, 1.4, 1.6, 1.8, 2.0, 2.2]
growth_labels = ["10<sup>0</sup>", "1.2 × 10<sup>0</sup>", "1.4 × 10<sup>0</sup>", "1.6 × 10<sup>0</sup>",
                 "1.8 × 10<sup>0</sup>", "2 × 10<sup>0</sup>", "2.2 × 10<sup>0</sup>"]
drawdown_ticks = [0.0, -0.05, -0.10, -0.15, -0.20, -0.25, -0.30]
drawdown_labels = ["0.00", "−0.05", "−0.10", "−0.15", "−0.20", "−0.25", "−0.30"]

regime_dates = regime_dates_2020 + regime_dates_2021 + regime_dates_2022 + regime_dates_2023 + regime_dates_2024
regime_growth = regime_values_2020 + regime_values_2021 + regime_values_2022 + regime_values_2023 + regime_values_2024
alpha_dates = alpha_dates_2021 + alpha_dates_2022 + alpha_dates_2023
alpha_growth = alpha_values_2021 + alpha_values_2022 + alpha_values_2023

# drawdown = value / running peak - 1
regime_s = pd.Series(regime_growth)
alpha_s = pd.Series(alpha_growth)
regime_dd = (regime_s / regime_s.cummax() - 1).tolist()
alpha_dd = (alpha_s / alpha_s.cummax() - 1).tolist()

BLUE = "#1f77b4"
ORANGE = "#ff7f0e"
TEXT = "#262626"
FONT = "Liberation Sans, Arial, sans-serif"
W, H = 4200, 3600
ML, MR, MT, MB = 284, 46, 356, 102
PLOT_W = W - ML - MR
PLOT_H = H - MT - MB
top_domain = [1118 / PLOT_H, 1.0]
bottom_domain = [0.0, 1012 / PLOT_H]

fig = make_subplots(rows=2, cols=1, shared_xaxes=True)

fig.add_trace(go.Scatter(x=regime_dates, y=regime_growth, mode="lines", name="regime_aware_cvar_index",
                         line=dict(color=BLUE, width=8.3), legend="legend"), row=1, col=1)
fig.add_trace(go.Scatter(x=alpha_dates, y=alpha_growth, mode="lines", name="alpha_aware_cvar_index",
                         line=dict(color=ORANGE, width=8.3), legend="legend"), row=1, col=1)
fig.add_trace(go.Scatter(x=regime_dates, y=regime_dd, mode="lines", name="regime_aware_cvar_index",
                         line=dict(color=BLUE, width=6.25), opacity=0.8, legend="legend2"), row=2, col=1)
fig.add_trace(go.Scatter(x=alpha_dates, y=alpha_dd, mode="lines", name="alpha_aware_cvar_index",
                         line=dict(color=ORANGE, width=6.25), opacity=0.8, legend="legend2"), row=2, col=1)

grid = dict(showgrid=True, gridcolor="rgba(255,255,255,0.9)", gridwidth=3, griddash="14px,6px",
            zeroline=False, showline=False)
minor_grid = dict(tickmode="array", tickvals=extra_grid_dates, showgrid=True, ticks="",
                  gridcolor="rgba(255,255,255,0.9)", gridwidth=3, griddash="14px,6px")

x_common = dict(type="date", range=["2019-10-02 17:00", "2025-04-01"], tickmode="array",
                tickvals=year_ticks, ticktext=year_labels, minor=minor_grid, **grid)

fig.update_layout(
    width=W, height=H,
    paper_bgcolor="white", plot_bgcolor="#EAEAF2",
    margin=dict(l=ML, r=MR, t=MT, b=MB, autoexpand=False),
    font=dict(family=FONT, color=TEXT, size=42),
    title=dict(text="<b>Overall Strategy Performance Comparison</b>", x=0.5, xanchor="center",
               y=1 - 100 / H, yanchor="middle", font=dict(size=67, color=TEXT, family=FONT)),
    xaxis=dict(showticklabels=False, **x_common),
    xaxis2=dict(showticklabels=True, ticks="outside", ticklen=12, tickcolor="rgba(0,0,0,0)",
                tickfont=dict(size=42, color=TEXT), **x_common),
    yaxis=dict(type="log", domain=top_domain, range=[-0.0432, 0.3515], tickmode="array",
               tickvals=growth_ticks, ticktext=growth_labels, ticks="outside", ticklen=14,
               tickcolor="rgba(0,0,0,0)", tickfont=dict(size=42, color=TEXT), **grid),
    yaxis2=dict(domain=bottom_domain, range=[-0.3013, 0.0144], tickmode="array",
                tickvals=drawdown_ticks, ticktext=drawdown_labels, ticks="outside", ticklen=14,
                tickcolor="rgba(0,0,0,0)", tickfont=dict(size=42, color=TEXT), **grid),
    legend=dict(x=0.022, y=1 - 8 / PLOT_H, xanchor="left", yanchor="top", bgcolor="rgba(0,0,0,0)",
                font=dict(size=42, color=TEXT), itemwidth=60),
    legend2=dict(x=0.022, y=40 / PLOT_H, xanchor="left", yanchor="bottom", bgcolor="rgba(0,0,0,0)",
                 font=dict(size=42, color=TEXT), itemwidth=60),
    showlegend=True,
)

# subplot titles
fig.add_annotation(text="Cumulative Returns (Log Scale)", x=0.5, xref="paper", y=1.0, yref="paper",
                   xanchor="center", yanchor="bottom", yshift=8, showarrow=False,
                   font=dict(size=50, color=TEXT, family=FONT))
fig.add_annotation(text="Strategy Drawdowns", x=0.5, xref="paper", y=bottom_domain[1], yref="paper",
                   xanchor="center", yanchor="bottom", yshift=8, showarrow=False,
                   font=dict(size=50, color=TEXT, family=FONT))

# y-axis labels, placed where the source puts them
fig.add_annotation(text="Growth of $1", textangle=-90, x=(70 - ML) / PLOT_W, xref="paper",
                   y=(top_domain[0] + top_domain[1]) / 2, yref="paper", xanchor="center", yanchor="middle",
                   showarrow=False, font=dict(size=46, color=TEXT, family=FONT))
fig.add_annotation(text="Drawdown", textangle=-90, x=(127 - ML) / PLOT_W, xref="paper",
                   y=(bottom_domain[0] + bottom_domain[1]) / 2, yref="paper", xanchor="center", yanchor="middle",
                   showarrow=False, font=dict(size=46, color=TEXT, family=FONT))

fig.write_html("out.html")
